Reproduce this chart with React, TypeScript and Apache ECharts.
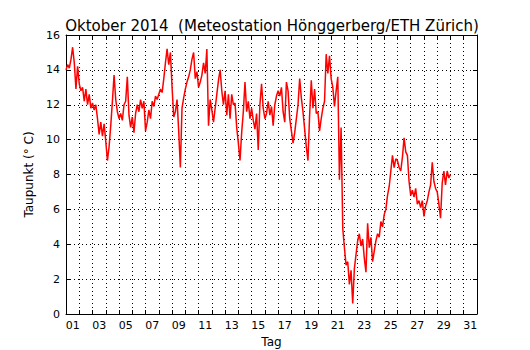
import React, { useEffect, useRef } from "react";
import * as echarts from "echarts";

// Dew point readings, one every 3 hours starting 1 Oct 2014 00:00
const STEP_HOURS = 3;
const days01to08 = [
  14.0, 14.3, 14.1, 14.6, 15.3, 14.4, 12.9, 14.2,
  13.2, 12.8, 13.0, 12.2, 12.9, 12.0, 12.6, 11.8,
  12.1, 11.7, 12.0, 11.2, 10.3, 11.0, 10.2, 10.9,
  9.9, 8.8, 9.6, 10.8, 12.2, 13.7, 12.3, 11.6,
  11.2, 11.5, 11.1, 12.0, 12.2, 13.6, 11.4, 10.7,
  11.3, 10.4, 11.5, 12.0, 11.6, 12.3, 11.8, 12.2,
  10.5, 11.0, 11.7, 11.2, 12.2, 11.9, 12.5, 12.3,
  12.6, 12.9, 12.7, 13.5, 14.4, 15.2, 14.3, 15.0,
];
const days09to16 = [
  13.0, 11.3, 11.6, 12.3, 10.5, 8.4, 11.8, 12.4,
  12.9, 13.3, 13.6, 14.0, 14.6, 15.0, 13.5, 13.9,
  13.0, 13.3, 13.7, 14.4, 13.8, 15.2, 10.8, 12.3,
  11.7, 11.0, 11.8, 12.6, 13.4, 14.0, 12.8, 12.0,
  12.8, 11.4, 12.6, 11.2, 12.6, 12.0, 12.1, 10.7,
  9.8, 8.8, 10.4, 11.6, 13.3, 11.6, 12.2, 11.2,
  11.8, 11.1, 10.6, 11.5, 9.4, 12.0, 13.2, 11.8,
  11.2, 11.5, 12.2, 11.4, 11.9, 10.8, 12.0, 12.5,
];
const days17to24 = [
  12.8, 12.5, 13.0, 11.6, 11.0, 13.3, 12.8, 11.2,
  10.5, 9.8, 10.4, 11.2, 12.0, 13.5, 12.4, 11.6,
  10.6, 9.6, 8.8, 11.4, 13.4, 11.8, 12.9, 11.5,
  11.6, 10.5, 11.2, 11.8, 12.2, 14.9, 13.8, 14.8,
  13.5, 13.0, 11.9, 12.8, 13.6, 7.7, 10.7, 4.9,
  3.8, 2.8, 3.0, 1.7, 2.5, 0.6, 2.6, 3.4,
  4.2, 4.6, 3.9, 4.3, 3.2, 2.4, 5.2, 3.8,
  4.4, 3.0, 3.6, 4.2, 4.6, 4.4, 5.3, 5.0,
];
const days25to29 = [
  5.7, 6.0, 6.8, 7.3, 8.2, 9.1, 8.4, 8.9,
  8.8, 8.4, 8.2, 9.0, 10.1, 9.3, 9.1, 7.6,
  6.8, 7.1, 6.7, 7.2, 6.3, 6.5, 6.1, 6.5,
  5.6, 6.2, 6.5, 7.0, 7.4, 8.7, 7.6, 7.2,
  7.0, 6.3, 5.5, 7.5, 8.2, 7.4, 8.2, 7.8,
  8.0,
];
const dayLabels = [
  "01", "02", "03", "04", "05", "06", "07", "08", "09", "10",
  "11", "12", "13", "14", "15", "16", "17", "18", "19", "20",
  "21", "22", "23", "24", "25", "26", "27", "28", "29", "30", "31",
];

const FONT = "DejaVu Sans";

export default function App() {
  const ref = useRef<HTMLDivElement>(null);
  useEffect(() => {
    if (!ref.current) return;
    const chart = echarts.init(ref.current, null, { renderer: "svg" });
    const values = [...days01to08, ...days09to16, ...days17to24, ...days25to29];
    const data = values.map((v, i) => [(i * STEP_HOURS) / 24, v]);
    const dotted = { type: [1, 3] as number[], color: "#000", width: 1 };
    chart.setOption({
      animation: false,
      backgroundColor: "#fff",
      title: {
        text: "Oktober 2014  (Meteostation Hönggerberg/ETH Zürich)",
        left: 267,
        textAlign: "center",
        top: 13,
        textStyle: { fontFamily: FONT, fontWeight: "normal", fontSize: 15, color: "#000" },
      },
      grid: { left: 66, right: 53, top: 35, bottom: 36, containLabel: false, outerBoundsMode: "none" },
      xAxis: [
        {
          type: "value",
          min: 0,
          max: 31,
          interval: 1,
          position: "bottom",
          axisLine: { show: true, onZero: false, lineStyle: { color: "#000", width: 1 } },
          axisTick: { show: true, inside: true, length: 4, lineStyle: { color: "#000" } },
          axisLabel: { show: false },
          splitLine: { show: true, lineStyle: dotted },
          name: "Tag",
          nameLocation: "middle",
          nameGap: 22,
          nameTextStyle: { fontFamily: FONT, fontSize: 12, color: "#000" },
        },
        {
          type: "value",
          min: 0,
          max: 31,
          interval: 1,
          position: "top",
          axisLine: { show: true, onZero: false, lineStyle: { color: "#000", width: 1 } },
          axisTick: { show: true, inside: true, length: 4, lineStyle: { color: "#000" } },
          axisLabel: { show: false },
          splitLine: { show: false },
        },
        {
          type: "category",
          data: dayLabels,
          boundaryGap: true,
          position: "bottom",
          axisLine: { show: false },
          axisTick: { show: false },
          splitLine: { show: false },
          axisLabel: { interval: 1, fontFamily: FONT, fontSize: 11, color: "#000", margin: 6 },
        },
      ],
      yAxis: [
        {
          type: "value",
          min: 0,
          max: 16,
          interval: 2,
          position: "left",
          axisLine: { show: true, onZero: false, lineStyle: { color: "#000", width: 1 } },
          axisTick: { show: true, inside: true, length: 4, lineStyle: { color: "#000" } },
          axisLabel: { fontFamily: FONT, fontSize: 11, color: "#000", margin: 6 },
          splitLine: { show: true, lineStyle: dotted },
          name: "Taupunkt (° C)",
          nameLocation: "middle",
          nameGap: 30,
          nameTextStyle: { fontFamily: FONT, fontSize: 12, color: "#000" },
        },
        {
          type: "value",
          min: 0,
          max: 16,
          interval: 2,
          position: "right",
          axisLine: { show: true, onZero: false, lineStyle: { color: "#000", width: 1 } },
          axisTick: { show: true, inside: true, length: 4, lineStyle: { color: "#000" } },
          axisLabel: { show: false },
          splitLine: { show: false },
        },
      ],
      series: [
        {
          type: "line",
          xAxisIndex: 0,
          yAxisIndex: 0,
          data,
          showSymbol: false,
          symbol: "none",
          lineStyle: { color: "#ff0000", width: 1.5 },
        },
      ],
    });
    return () => chart.dispose();
  }, []);
  return (
    <div
      ref={ref}
      style={{ position: "fixed", left: 0, top: 0, width: 530, height: 350, background: "#fff" }}
    />
  );
}
